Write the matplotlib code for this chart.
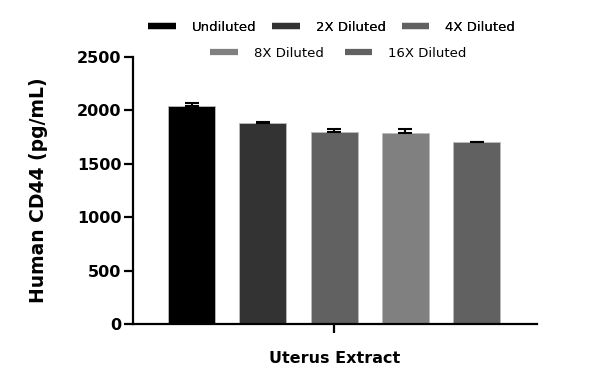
import matplotlib
matplotlib.use("Agg")
import matplotlib.pyplot as plt
from matplotlib.lines import Line2D

categories = ["Undiluted", "2X Diluted", "4X Diluted", "8X Diluted", "16X Diluted"]
values = [2040, 1880, 1800, 1785, 1700]
errors = [25, 10, 30, 38, 5]
colors = ["#000000", "#333333", "#616161", "#808080", "#616161"]
group_label = "Uterus Extract"
yticks = [0, 500, 1000, 1500, 2000, 2500]

fig = plt.figure(figsize=(6, 3.88), dpi=100)
ax = fig.add_axes([0.2217, 0.165, 0.673, 0.688])

x = list(range(len(values)))
ax.bar(x, values, width=0.66, color=colors, edgecolor="#bbbbbb", linewidth=0.6, zorder=2)
ax.errorbar(x, values, yerr=[[0]*len(errors), errors], fmt="none", ecolor="black",
            elinewidth=1.5, capsize=5, capthick=1.5, zorder=3)

ax.set_xlim(-0.825, 4.846)
ax.set_ylim(0, 2500)
ax.set_yticks(yticks)
ax.set_yticklabels([str(t) for t in yticks], fontsize=11.5, fontweight="bold")
ax.set_xticks([2])
ax.set_xticklabels([""])
ax.text(2, -0.1, group_label, transform=ax.get_xaxis_transform(), ha="center", va="top",
        fontsize=11.5, fontweight="bold")
ax.set_ylabel("Human CD44 (pg/mL)", fontsize=13.5, fontweight="bold", labelpad=21)

for s in ["top", "right"]:
    ax.spines[s].set_visible(False)
for s in ["left", "bottom"]:
    ax.spines[s].set_linewidth(1.6)
ax.tick_params(axis="both", width=1.6, length=6.5, pad=2)

handles = [Line2D([0], [0], color=c, lw=4.5, solid_capstyle="butt") for c in colors]
kw = dict(loc="center", ncol=3, frameon=False, fontsize=9.5, handlelength=2.1,
          columnspacing=1.2, handletextpad=1.2, borderpad=0, borderaxespad=0)
leg1 = fig.legend(handles[:3], categories[:3], bbox_to_anchor=(0.553, 0.930), **kw)
fig.add_artist(leg1)
kw["ncol"] = 2
kw["columnspacing"] = 1.6
leg2 = fig.legend(handles[3:], categories[3:], bbox_to_anchor=(0.564, 0.863), **kw)

fig.savefig("out.png", dpi=100)
